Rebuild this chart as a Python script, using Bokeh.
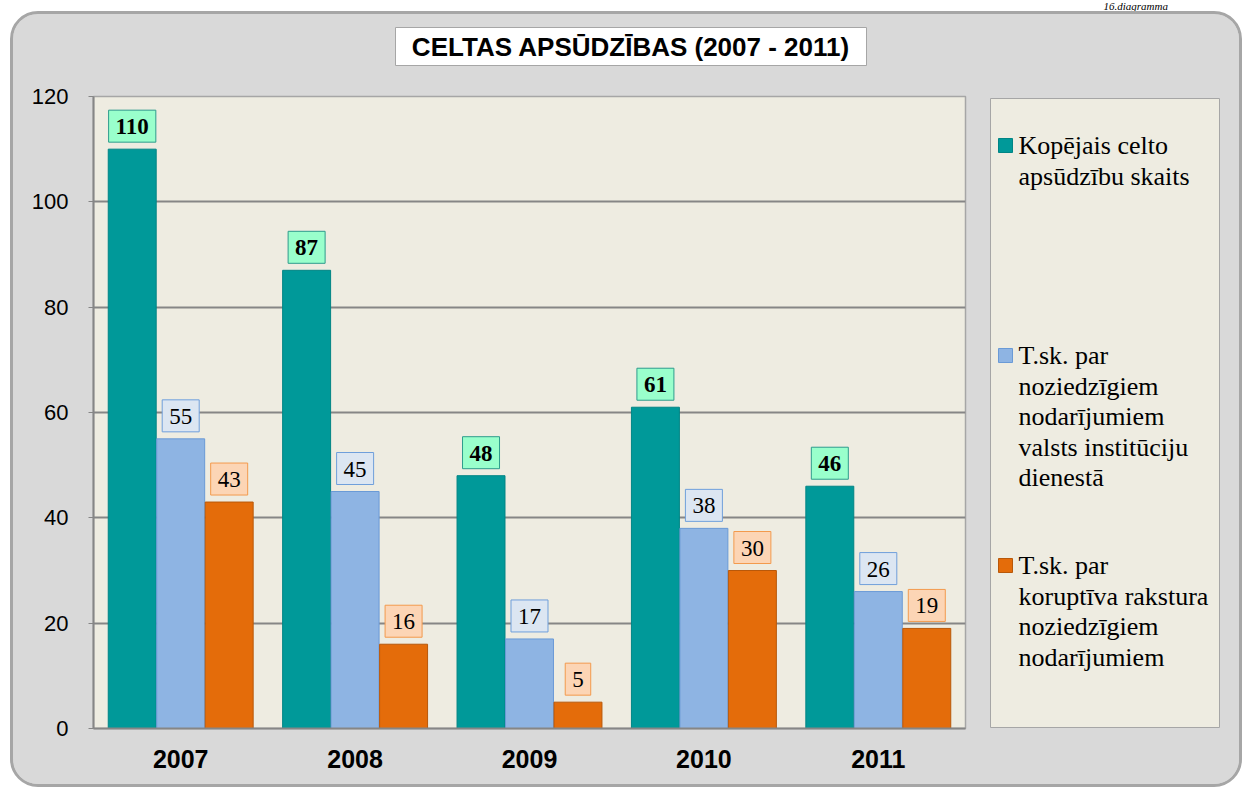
from bokeh.plotting import figure
from bokeh.layouts import column, row
from bokeh.models import FactorRange, Range1d, BoxAnnotation, Label, ColumnDataSource, FixedTicker
from bokeh.transform import dodge
from bokeh.core.properties import value
from bokeh.embed import file_html
from bokeh.resources import INLINE

# ---- data ----
years = ["2007", "2008", "2009", "2010", "2011"]
total = [110, 87, 48, 61, 46]
state_service = [55, 45, 17, 38, 26]
corruption = [43, 16, 5, 30, 19]
legend_lines = [
    ["Kopējais celto", "apsūdzību skaits"],
    ["T.sk. par", "noziedzīgiem", "nodarījumiem", "valsts institūciju", "dienestā"],
    ["T.sk. par", "koruptīva rakstura", "noziedzīgiem", "nodarījumiem"],
]
y_ticks = [0, 20, 40, 60, 80, 100, 120]
title_text = "CELTAS APSŪDZĪBAS (2007 - 2011)"
corner_text = "16.diagramma"

# ---- styles ----
GRAY = "#D9D9D9"
BEIGE = "#EEECE1"
EDGE = "#A6A6A6"
bar_fill = ["#009999", "#8EB4E3", "#E46C0A"]
bar_line = ["#008585", "#6A9AD6", "#B8580A"]
lbl_fill = ["#99FFCC", "#DCE6F2", "#FCD5B5"]
lbl_line = ["#2E9C8C", "#6F9FDB", "#F39A4D"]
lbl_style = ["bold", "normal", "normal"]
offsets = [-0.278, 0.0, 0.278]
cols = ["total", "state", "corr"]

CW, CH = 1226, 770     # content inside rounded panel
TH = 70                # title strip height
MW = 970               # main chart width
LW = CW - MW           # legend strip width
BH = CH - TH           # body height


def blank(w, h, bg):
    f = figure(width=w, height=h, x_range=Range1d(0, 1), y_range=Range1d(0, 1),
               output_backend="svg", toolbar_location=None,
               x_axis_location=None, y_axis_location=None, min_border=0)
    f.background_fill_color = bg
    f.border_fill_color = bg
    f.outline_line_color = None
    f.xgrid.visible = False
    f.ygrid.visible = False
    return f


def sbox(fig, l, r, b, t, **kw):
    fig.add_layout(BoxAnnotation(left=l, right=r, bottom=b, top=t,
                                 left_units="screen", right_units="screen",
                                 top_units="screen", bottom_units="screen",
                                 fill_alpha=1.0, line_alpha=1.0, **kw))


# ---- caption strip (above panel) ----
cap = blank(1242, 11, "white")
cap.add_layout(Label(x=1103, y=1, x_units="screen", y_units="screen", text=corner_text,
                     text_align="left", text_baseline="bottom",
                     text_font="Liberation Serif", text_font_size="11px",
                     text_font_style="italic", text_color="black"))
sbox(cap, 1103, 1166, 0.5, 1.5, fill_color="black", line_color=None)

# ---- title strip ----
tf = blank(CW, TH, GRAY)
sbox(tf, 382, 853, 19, 57, fill_color="white", line_color=EDGE, line_width=1)
tf.add_layout(Label(x=617.5, y=38, x_units="screen", y_units="screen", text=title_text,
                    text_align="center", text_baseline="middle",
                    text_font="Liberation Sans", text_font_size="26px",
                    text_font_style="bold", text_color="black"))

# ---- main chart ----
src = ColumnDataSource(dict(
    years=years, total=total, state=state_service, corr=corruption,
    total_lbl=[str(v) for v in total],
    state_lbl=[str(v) for v in state_service],
    corr_lbl=[str(v) for v in corruption],
))

p = figure(x_range=FactorRange(*years), y_range=Range1d(0, 120),
           width=MW, height=BH, output_backend="svg", toolbar_location=None,
           min_border_left=80, min_border_right=18, min_border_top=12,
           min_border_bottom=56)
p.border_fill_color = GRAY
p.background_fill_color = BEIGE
p.outline_line_color = EDGE
p.outline_line_width = 1.5

for i in range(3):
    p.vbar(x=dodge("years", offsets[i], range=p.x_range), top=cols[i], width=0.275,
           source=src, fill_color=bar_fill[i], line_color=bar_line[i], line_width=1)
    p.text(x=dodge("years", offsets[i], range=p.x_range), y=cols[i],
           text=cols[i] + "_lbl", source=src,
           text_align="center", text_baseline="bottom", y_offset=-7,
           text_font=value("Liberation Serif"), text_font_size="23px",
           text_font_style=lbl_style[i], text_color="black",
           background_fill_color=lbl_fill[i], border_line_color=lbl_line[i],
           border_line_width=1, padding=dict(left=7, right=7, top=9, bottom=8))

p.yaxis.ticker = FixedTicker(ticks=y_ticks)
p.yaxis.major_label_text_font = "Liberation Sans"
p.yaxis.major_label_text_font_size = "22px"
p.yaxis.major_label_text_color = "black"
p.yaxis.major_tick_out = 5
p.yaxis.major_tick_in = 0
p.yaxis.major_tick_line_color = "#868686"
p.yaxis.minor_tick_line_color = None
p.yaxis.axis_line_color = "#868686"
p.yaxis.axis_line_width = 2
p.yaxis.major_label_standoff = 20

p.xaxis.major_label_text_font = "Liberation Sans"
p.xaxis.major_label_text_font_size = "25px"
p.xaxis.major_label_text_font_style = "bold"
p.xaxis.major_label_text_color = "black"
p.xaxis.major_tick_line_color = None
p.xaxis.major_tick_out = 0
p.xaxis.axis_line_color = "#868686"
p.xaxis.axis_line_width = 2
p.xaxis.major_label_standoff = 21

p.ygrid.grid_line_color = "#868686"
p.ygrid.grid_line_width = 2
p.xgrid.grid_line_color = None

# ---- legend strip (its frame lines up with the chart frame) ----
lf = blank(LW, BH, GRAY)
sbox(lf, 7, 236, 1, 630, fill_color=BEIGE, line_color=EDGE, line_width=1)
item_y = [583, 373, 163]
line_gap = 30.5
for i in range(3):
    yc = item_y[i]
    sbox(lf, 15, 29, yc - 7, yc + 7, fill_color=bar_fill[i], line_color=bar_line[i],
         line_width=1)
    for j, txt in enumerate(legend_lines[i]):
        lf.add_layout(Label(x=35, y=yc - j * line_gap, x_units="screen", y_units="screen",
                            text=txt, text_align="left", text_baseline="middle",
                            text_font="Liberation Serif", text_font_size="26px",
                            text_color="black"))

panel = column(tf, row(p, lf, spacing=0), spacing=0, margin=(0, 0, 0, 10),
               styles={"background-color": GRAY, "border": "3px solid " + EDGE,
                       "border-radius": "28px", "overflow": "hidden"})
page = column(cap, panel, spacing=0)

open("out.html", "w").write(file_html(page, INLINE))
